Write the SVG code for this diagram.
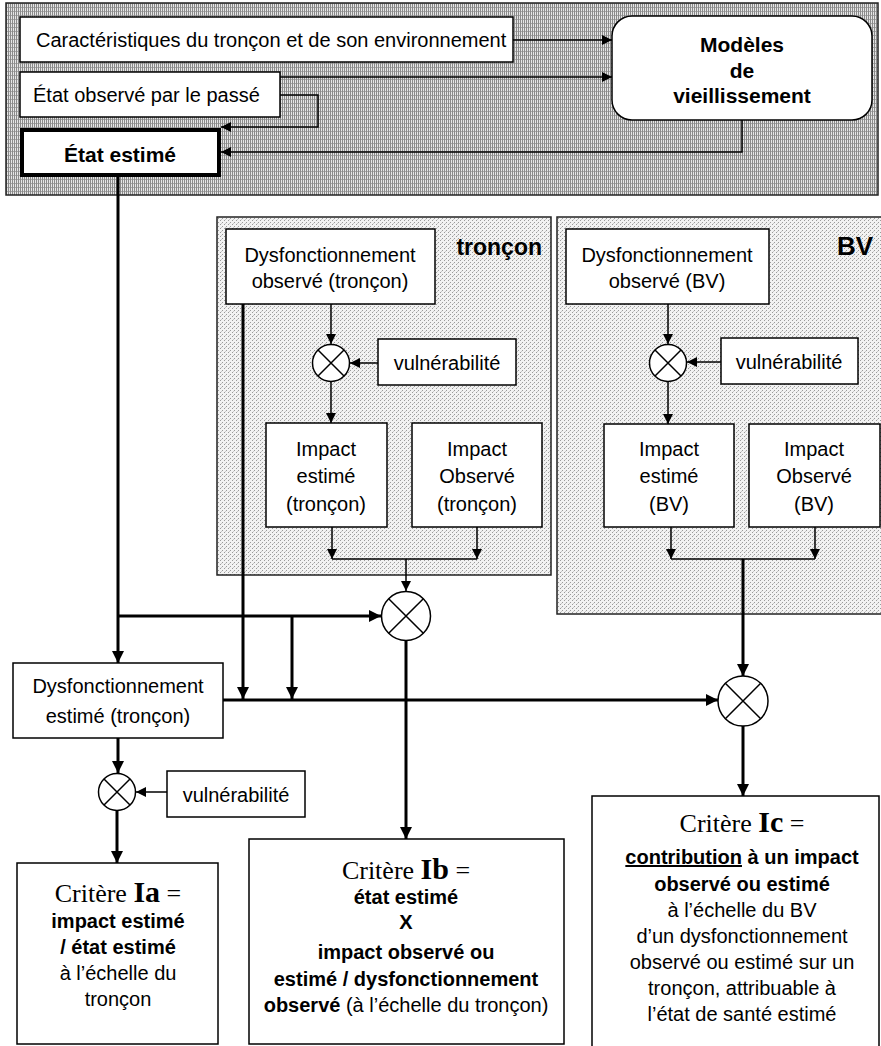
<svg xmlns="http://www.w3.org/2000/svg" width="881" height="1046" viewBox="0 0 881 1046">
<style>
.box{fill:#fff;stroke:#000;stroke-width:1.5}
.t{font-family:"Liberation Sans",Arial,sans-serif;font-size:20px;fill:#000}
.m{text-anchor:middle}
.b{font-weight:bold}
.h{font-size:21px}
.s{font-family:"Liberation Serif","Times New Roman",serif;font-size:26px;fill:#000;text-anchor:middle}
.sb{font-weight:bold;font-size:30px}
.c{fill:none;stroke:#000;stroke-width:1.5}
.ct{fill:none;stroke:#000;stroke-width:3}
.a{marker-end:url(#ah)}
.ab{marker-end:url(#ahb)}
.x{fill:#fff;stroke:#000;stroke-width:1.5}
</style>
<defs>
<pattern id="hatch" width="2" height="4" patternUnits="userSpaceOnUse">
<rect width="2" height="4" fill="#e6e6e6"/>
<rect width="1" height="4" fill="#8a8a8a"/>
<rect x="1" y="3" width="1" height="1" fill="#a8a8a8"/>
</pattern>
<pattern id="dots" width="4" height="4" patternUnits="userSpaceOnUse">
<rect width="4" height="4" fill="#f2f2f2"/>
<rect x="0" y="0" width="1" height="1" fill="#9a9a9a"/>
<rect x="2" y="2" width="1" height="1" fill="#9a9a9a"/>
<rect x="1" y="3" width="1" height="1" fill="#c8c8c8"/>
</pattern>
<marker id="ah" viewBox="0 0 10 10" refX="10" refY="5" markerWidth="10" markerHeight="10" markerUnits="userSpaceOnUse" orient="auto"><path d="M0,0 L10,5 L0,10 z" fill="#000"/></marker>
<marker id="ahb" viewBox="0 0 10 10" refX="10" refY="5" markerWidth="12" markerHeight="12" markerUnits="userSpaceOnUse" orient="auto"><path d="M0,0 L10,5 L0,10 z" fill="#000"/></marker>
</defs>

<g id="panel-top"><rect x="6" y="3" width="872" height="192" fill="url(#hatch)" stroke="#222" stroke-width="1.5"/></g>
<g id="panel-troncon"><rect x="217" y="217" width="334" height="358" fill="url(#dots)" stroke="#222" stroke-width="1.5"/>
<text class="t b" x="542" y="255" text-anchor="end" style="font-size:23px">tronçon</text></g>
<g id="panel-bv"><rect x="557" y="217" width="340" height="397" fill="url(#dots)" stroke="#222" stroke-width="1.5"/>
<text class="t b" x="873" y="255" text-anchor="end" style="font-size:26px">BV</text></g>

<g id="caracteristiques"><rect class="box" x="20" y="17" width="493" height="45"/>
<text class="t" x="36" y="47">Caractéristiques du tronçon et de son environnement</text></g>
<g id="etat-observe"><rect class="box" x="20" y="72" width="260" height="45"/>
<text class="t" x="33" y="102">État observé par le passé</text></g>
<g id="etat-estime"><rect x="22" y="130" width="197" height="45" fill="#fff" stroke="#000" stroke-width="4"/>
<text class="t m b h" x="120" y="162">État estimé</text></g>
<g id="modeles"><rect class="box" x="612" y="16" width="260" height="104" rx="20"/>
<text class="t m b h" x="742" y="52">Modèles</text>
<text class="t m b h" x="742" y="78">de</text>
<text class="t m b h" x="742" y="103">vieillissement</text></g>

<g id="dysf-obs-troncon"><rect class="box" x="226" y="229" width="209" height="75"/>
<text class="t m" x="330" y="262">Dysfonctionnement</text>
<text class="t m" x="330" y="288">observé (tronçon)</text></g>
<g id="mult-troncon"><circle class="x" cx="331" cy="363" r="18.5"/><path class="c" d="M318,350 L344,376 M344,350 L318,376"/></g>
<g id="vuln-troncon"><rect class="box" x="378" y="339" width="138" height="46"/>
<text class="t m" x="447" y="370">vulnérabilité</text></g>
<g id="impact-est-troncon"><rect class="box" x="266" y="423" width="121" height="104"/>
<text class="t m" x="326" y="456">Impact</text><text class="t m" x="326" y="483">estimé</text><text class="t m" x="326" y="511">(tronçon)</text></g>
<g id="impact-obs-troncon"><rect class="box" x="412" y="423" width="130" height="104"/>
<text class="t m" x="477" y="456">Impact</text><text class="t m" x="477" y="483">Observé</text><text class="t m" x="477" y="511">(tronçon)</text></g>

<g id="dysf-obs-bv"><rect class="box" x="566" y="229" width="203" height="75"/>
<text class="t m" x="667" y="262">Dysfonctionnement</text>
<text class="t m" x="667" y="288">observé (BV)</text></g>
<g id="mult-bv"><circle class="x" cx="668" cy="363" r="18.5"/><path class="c" d="M655,350 L681,376 M681,350 L655,376"/></g>
<g id="vuln-bv"><rect class="box" x="721" y="338" width="137" height="46"/>
<text class="t m" x="789" y="369">vulnérabilité</text></g>
<g id="impact-est-bv"><rect class="box" x="604" y="424" width="130" height="103"/>
<text class="t m" x="669" y="456">Impact</text><text class="t m" x="669" y="483">estimé</text><text class="t m" x="669" y="511">(BV)</text></g>
<g id="impact-obs-bv"><rect class="box" x="749" y="424" width="131" height="103"/>
<text class="t m" x="814" y="456">Impact</text><text class="t m" x="814" y="483">Observé</text><text class="t m" x="814" y="511">(BV)</text></g>

<g id="mult-ib"><circle class="x" cx="406" cy="616" r="24.5"/><path class="c" d="M388.7,598.7 L423.3,633.3 M423.3,598.7 L388.7,633.3"/></g>
<g id="mult-ic"><circle class="x" cx="743" cy="701" r="25"/><path class="c" d="M725.3,683.3 L760.7,718.7 M760.7,683.3 L725.3,718.7"/></g>
<g id="dysf-est"><rect class="box" x="13" y="663" width="210" height="75"/>
<text class="t m" x="118" y="693">Dysfonctionnement</text>
<text class="t m" x="118" y="723">estimé (tronçon)</text></g>
<g id="mult-ia"><circle class="x" cx="117" cy="792" r="18.5"/><path class="c" d="M104,779 L130,805 M130,779 L104,805"/></g>
<g id="vuln-ia"><rect class="box" x="167" y="771" width="138" height="46"/>
<text class="t m" x="236" y="802">vulnérabilité</text></g>

<g id="critere-ia"><rect class="box" x="17" y="863" width="201" height="181"/>
<text class="s" x="118" y="902">Critère <tspan class="sb">Ia</tspan> =</text>
<text class="t m b" x="118" y="928">impact estimé</text>
<text class="t m b" x="118" y="954">/ état estimé</text>
<text class="t m" x="118" y="980">à l’échelle du</text>
<text class="t m" x="118" y="1006">tronçon</text></g>
<g id="critere-ib"><rect class="box" x="249" y="839" width="315" height="205"/>
<text class="s" x="406" y="879">Critère <tspan class="sb">Ib</tspan> =</text>
<text class="t m b" x="406" y="904">état estimé</text>
<text class="t m b" x="406" y="929">X</text>
<text class="t m b" x="406" y="959">impact observé ou</text>
<text class="t m b" x="406" y="986">estimé / dysfonctionnement</text>
<text class="t m" x="406" y="1012"><tspan class="b">observé</tspan> (à l’échelle du tronçon)</text></g>
<g id="critere-ic"><rect class="box" x="592" y="796" width="287" height="270"/>
<text class="s" x="742" y="832">Critère <tspan class="sb">Ic</tspan> =</text>
<text class="t m b" x="742" y="864"><tspan text-decoration="underline">contribution</tspan> à un impact</text>
<text class="t m b" x="742" y="891">observé ou estimé</text>
<text class="t m" x="742" y="917">à l’échelle du BV</text>
<text class="t m" x="742" y="943">d’un dysfonctionnement</text>
<text class="t m" x="742" y="969">observé ou estimé sur un</text>
<text class="t m" x="742" y="995">tronçon, attribuable à</text>
<text class="t m" x="742" y="1021">l’état de santé estimé</text></g>

<g id="connectors">
<path class="c a" d="M513,40 H612"/>
<path class="c a" d="M280,77 H612"/>
<path class="c a" d="M280,95 H318 V127 H221"/>
<path class="c a" d="M742,120 V152 H221"/>
<path class="c a" d="M331,304 V344"/>
<path class="c a" d="M378,363 H350"/>
<path class="c a" d="M331,381 V423"/>
<path class="c a" d="M332,527 V559"/>
<path class="c a" d="M477,527 V559"/>
<path class="c" d="M332,559 H477"/>
<path class="c a" d="M406,559 V591"/>
<path class="c a" d="M668,304 V344"/>
<path class="c a" d="M721,362 H687"/>
<path class="c a" d="M668,381 V424"/>
<path class="c a" d="M671,527 V559"/>
<path class="c a" d="M815,527 V559"/>
<path class="c" d="M671,559 H815"/>
<path class="c a" d="M167,792 H136"/>
<path class="ct ab" d="M118,175 V663"/>
<path class="ct ab" d="M118,616 H381"/>
<path class="ct ab" d="M292,616 V699"/>
<path class="ct ab" d="M243,304 V699"/>
<path class="ct ab" d="M223,700 H718"/>
<path class="ct ab" d="M743,559 V676"/>
<path class="ct ab" d="M406,641 V839"/>
<path class="ct ab" d="M743,726 V796"/>
<path class="ct ab" d="M118,738 V773"/>
<path class="ct ab" d="M117,811 V863"/>
</g>
</svg>
